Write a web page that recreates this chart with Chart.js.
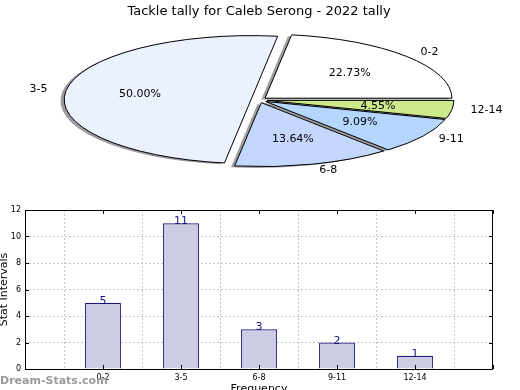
<!DOCTYPE html>
<html>
<head>
<meta charset="utf-8">
<title>Tackle tally</title>
<style type="text/css">
body { margin: 0; background: #fff; font-family: "DejaVu Sans"; }
#wrap { position: relative; width: 520px; height: 390px; overflow: hidden; }
canvas { position: absolute; left: 0; }
</style>
<script type="text/javascript" src="https://cdn.jsdelivr.net/npm/chart.js@4.4.1/dist/chart.umd.min.js"></script>
</head>
<body>
<div id="wrap">
<canvas id="pie" width="520" height="200" style="top:0"></canvas>
<canvas id="bars" width="520" height="190" style="top:200px"></canvas>
</div>
<script type="text/javascript">
var title = 'Tackle tally for Caleb Serong - 2022 tally';
var categories = ['0-2', '3-5', '6-8', '9-11', '12-14'];
var tallies = [5, 11, 3, 2, 1];
var sliceColors = ['#ffffff', '#ebf1ff', '#c4d7ff', '#b4d6ff', '#cde98b'];
var yTicks = [0, 2, 4, 6, 8, 10, 12];

var FONT = '"DejaVu Sans"';
var STRETCH = 2.92;   // pie is squashed into an ellipse
var EXPLODE = 0.043;
var SHADOW = 0.02;

// pie goes counter clockwise from 3 o'clock, chart.js goes clockwise -> reverse
var order = [];
for (var i = categories.length - 1; i >= 0; --i) order.push(i);
var total = 0;
for (var i = 0; i < tallies.length; ++i) total += tallies[i];

function placeSlice(ctx, arc, dx, dy) {
	var mid = (arc.startAngle + arc.endAngle) / 2;
	var off = EXPLODE * arc.outerRadius;
	ctx.translate(arc.x, arc.y);
	ctx.scale(STRETCH, 1);
	ctx.translate(Math.cos(mid) * off + dx, Math.sin(mid) * off + dy);
	ctx.translate(-arc.x, -arc.y);
}

var ellipsePie = {
	id: 'ellipsePie',
	beforeDatasetsDraw: function (chart) {
		var ctx = chart.ctx;
		var arcs = chart.getDatasetMeta(0).data;
		// shadows first
		arcs.forEach(function (arc) {
			var bg = arc.options.backgroundColor;
			arc.options.backgroundColor = 'rgba(60,60,60,0.5)';
			ctx.save();
			placeSlice(ctx, arc, -SHADOW * arc.outerRadius, SHADOW * arc.outerRadius);
			arc.draw(ctx);
			ctx.restore();
			arc.options.backgroundColor = bg;
		});
		arcs.forEach(function (arc) {
			ctx.save();
			placeSlice(ctx, arc, 0, 0);
			arc.draw(ctx);
			ctx.beginPath();
			ctx.moveTo(arc.x, arc.y);
			ctx.arc(arc.x, arc.y, arc.outerRadius, arc.startAngle, arc.endAngle);
			ctx.closePath();
			ctx.restore();
			ctx.lineWidth = 1;
			ctx.strokeStyle = '#000';
			ctx.stroke();
		});
		return false;
	},
	afterDraw: function (chart) {
		var ctx = chart.ctx;
		var arcs = chart.getDatasetMeta(0).data;
		ctx.save();
		ctx.font = '11px ' + FONT;
		ctx.fillStyle = '#000';
		ctx.textBaseline = 'middle';
		arcs.forEach(function (arc, i) {
			var k = order[i];
			var r = arc.outerRadius;
			var mid = (arc.startAngle + arc.endAngle) / 2;
			var c = Math.cos(mid), s = Math.sin(mid);
			var cx = arc.x + STRETCH * c * EXPLODE * r;
			var cy = arc.y + s * EXPLODE * r;
			ctx.textAlign = c > 0 ? 'left' : 'right';
			ctx.fillText(categories[k], cx + STRETCH * r * 1.1 * c, cy + r * 1.1 * s);
			ctx.textAlign = 'center';
			ctx.fillText((tallies[k] / total * 100).toFixed(2) + '%', cx + STRETCH * r * 0.6 * c, cy + r * 0.6 * s);
		});
		ctx.restore();
	}
};

new Chart(document.getElementById('pie'), {
	type: 'pie',
	data: {
		labels: order.map(function (k) { return categories[k]; }),
		datasets: [{
			data: order.map(function (k) { return tallies[k]; }),
			backgroundColor: order.map(function (k) { return sliceColors[k]; }),
			borderWidth: 0,
			radius: 64,
			rotation: 90
		}]
	},
	options: {
		responsive: false,
		animation: false,
		events: [],
		layout: { padding: { left: 0, right: 2, top: 0, bottom: 19.6 } },
		plugins: {
			legend: { display: false },
			tooltip: { enabled: false },
			title: {
				display: true,
				text: title,
				color: '#000',
				font: { family: 'DejaVu Sans', size: 13, weight: 'normal' },
				padding: { top: 4, bottom: 0 }
			}
		}
	},
	plugins: [ellipsePie]
});

var barFrame = {
	id: 'barFrame',
	afterDraw: function (chart) {
		var ctx = chart.ctx;
		var a = chart.chartArea;
		var xs = chart.scales.x, ys = chart.scales.y;
		ctx.save();
		ctx.strokeStyle = '#000';
		ctx.lineWidth = 1;
		ctx.strokeRect(a.left + 0.5, a.top + 0.5, a.right - a.left - 1, a.bottom - a.top);
		// inward tick marks
		ctx.beginPath();
		yTicks.forEach(function (v) {
			var y = Math.round(ys.getPixelForValue(v)) + 0.5;
			ctx.moveTo(a.left, y); ctx.lineTo(a.left + 4, y);
			ctx.moveTo(a.right, y); ctx.lineTo(a.right - 4, y);
		});
		for (var i = 0; i < xs.ticks.length; ++i) {
			var x = Math.round(xs.getPixelForTick(i)) + 0.5;
			ctx.moveTo(x, a.bottom); ctx.lineTo(x, a.bottom - 4);
			ctx.moveTo(x, a.top); ctx.lineTo(x, a.top + 4);
		}
		ctx.stroke();
		// values over bars
		ctx.fillStyle = '#14147f';
		ctx.font = '11px ' + FONT;
		ctx.textAlign = 'center';
		ctx.textBaseline = 'alphabetic';
		chart.getDatasetMeta(0).data.forEach(function (bar, i) {
			var v = chart.data.datasets[0].data[i];
			if (v === null) return;
			ctx.fillText(String(v), bar.x, bar.y + 1);
		});
		// watermark
		ctx.fillStyle = '#9a9a9a';
		ctx.font = 'bold 11px ' + FONT;
		ctx.textAlign = 'left';
		ctx.textBaseline = 'middle';
		ctx.fillText('Dream-Stats.com', 0, 181);
		ctx.restore();
	}
};

var gridStyle = { color: '#c6c6c6', lineWidth: 1, drawTicks: false };

new Chart(document.getElementById('bars'), {
	type: 'bar',
	data: {
		labels: [''].concat(categories, ['']),
		datasets: [{
			data: [null].concat(tallies, [null]),
			backgroundColor: '#ccccE4',
			borderColor: '#1b1b80',
			borderWidth: 1.2,
			categoryPercentage: 1,
			barPercentage: 0.46
		}]
	},
	options: {
		responsive: false,
		animation: false,
		events: [],
		layout: { padding: { left: 0, right: 27, top: 10, bottom: 0 } },
		plugins: { legend: { display: false }, tooltip: { enabled: false } },
		scales: {
			x: {
				offset: false,
				z: 1,
				grid: gridStyle,
				border: { display: false, dash: [2, 2] },
				ticks: { color: '#000', font: { family: 'DejaVu Sans', size: 8 }, padding: 4, maxRotation: 0, autoSkip: false },
				title: { display: true, text: 'Frequency', color: '#000', font: { family: 'DejaVu Sans', size: 11 }, padding: { top: 0, bottom: -6 } },
				afterFit: function (s) { s.height = 21; }
			},
			y: {
				min: yTicks[0],
				max: yTicks[yTicks.length - 1],
				z: 1,
				grid: gridStyle,
				border: { display: false, dash: [2, 2] },
				ticks: { stepSize: yTicks[1] - yTicks[0], color: '#000', font: { family: 'DejaVu Sans', size: 8 }, padding: 4 },
				title: { display: true, text: 'Stat Intervals', color: '#000', font: { family: 'DejaVu Sans', size: 11 }, padding: { top: -2, bottom: 0 } },
				afterFit: function (s) { s.width = 25; }
			}
		}
	},
	plugins: [barFrame]
});
</script>
</body>
</html>
